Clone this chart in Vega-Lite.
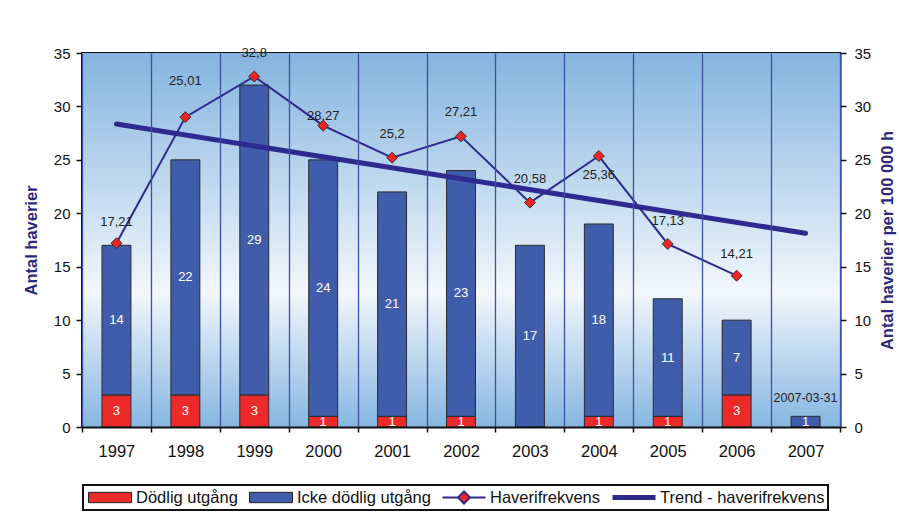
{
  "$schema": "https://vega.github.io/schema/vega-lite/v6.json",
  "width": 758,
  "height": 374,
  "autosize": "none",
  "padding": {"left": 82, "top": 53, "right": 59, "bottom": 102},
  "background": "white",
  "config": {
    "font": "Liberation Sans",
    "view": {"stroke": "#111", "strokeWidth": 2},
    "axis": {
      "labelFont": "Liberation Sans",
      "labelColor": "#111",
      "domainColor": "#111",
      "tickColor": "#111",
      "titleFont": "Liberation Sans",
      "titleFontWeight": "bold",
      "titleColor": "#2b2a7c",
      "titleFontSize": 16.5
    },
    "legend": {
      "orient": "none",
      "legendX": 1,
      "legendY": 432,
      "direction": "horizontal",
      "columns": 4,
      "strokeColor": "#111",
      "strokeWidth": 2,
      "padding": 3,
      "columnPadding": 9,
      "labelFont": "Liberation Sans",
      "labelFontSize": 16.5,
      "labelColor": "#111",
      "labelOffset": 2,
      "symbolSize": 1849,
      "clipHeight": 19,
      "labelLimit": 400
    }
  },
  "datasets": {
    "counts": [
      {"year": "1997", "category": "Dödlig utgång", "count": 3},
      {"year": "1997", "category": "Icke dödlig utgång", "count": 14},
      {"year": "1998", "category": "Dödlig utgång", "count": 3},
      {"year": "1998", "category": "Icke dödlig utgång", "count": 22},
      {"year": "1999", "category": "Dödlig utgång", "count": 3},
      {"year": "1999", "category": "Icke dödlig utgång", "count": 29},
      {"year": "2000", "category": "Dödlig utgång", "count": 1},
      {"year": "2000", "category": "Icke dödlig utgång", "count": 24},
      {"year": "2001", "category": "Dödlig utgång", "count": 1},
      {"year": "2001", "category": "Icke dödlig utgång", "count": 21},
      {"year": "2002", "category": "Dödlig utgång", "count": 1},
      {"year": "2002", "category": "Icke dödlig utgång", "count": 23},
      {"year": "2003", "category": "Icke dödlig utgång", "count": 17},
      {"year": "2004", "category": "Dödlig utgång", "count": 1},
      {"year": "2004", "category": "Icke dödlig utgång", "count": 18},
      {"year": "2005", "category": "Dödlig utgång", "count": 1},
      {"year": "2005", "category": "Icke dödlig utgång", "count": 11},
      {"year": "2006", "category": "Dödlig utgång", "count": 3},
      {"year": "2006", "category": "Icke dödlig utgång", "count": 7},
      {"year": "2007", "category": "Icke dödlig utgång", "count": 1}
    ],
    "bg": [
      {"bottom": 0, "top": 35}
    ],
    "note": [
      {"year": "2007", "total": 1, "text": "2007-03-31"}
    ],
    "freq": [
      {"year": "1997", "freq": 17.2, "label": "17,21", "labelY": 19.2},
      {"year": "1998", "freq": 29.0, "label": "25,01", "labelY": 32.4},
      {"year": "1999", "freq": 32.8, "label": "32,8", "labelY": 35.0},
      {"year": "2000", "freq": 28.2, "label": "28,27", "labelY": 29.1},
      {"year": "2001", "freq": 25.2, "label": "25,2", "labelY": 27.4},
      {"year": "2002", "freq": 27.2, "label": "27,21", "labelY": 29.5},
      {"year": "2003", "freq": 21.0, "label": "20,58", "labelY": 23.2},
      {"year": "2004", "freq": 25.36, "label": "25,36", "labelY": 23.6},
      {"year": "2005", "freq": 17.13, "label": "17,13", "labelY": 19.3},
      {"year": "2006", "freq": 14.16, "label": "14,21", "labelY": 16.2}
    ],
    "trend": [
      {"year": "1997", "trend": 28.35},
      {"year": "2007", "trend": 18.13}
    ]
  },
  "layer": [
    {
      "layer": [
        {
          "data": {"name": "bg"},
          "mark": {
            "type": "rect",
            "color": {
              "gradient": "linear", "x1": 0, "y1": 0, "x2": 0, "y2": 1,
              "stops": [
                {"offset": 0, "color": "#84b4df"},
                {"offset": 0.64, "color": "#f2f7fc"},
                {"offset": 1, "color": "#86b6e1"}
              ]
            }
          },
          "encoding": {
            "y": {"field": "top", "type": "quantitative", "title": "Antal haverier"},
            "y2": {"field": "bottom"}
          }
        },
        {
          "data": {"name": "counts"},
          "transform": [
            {"stack": "count", "groupby": ["year"], "sort": [{"field": "category", "order": "ascending"}], "as": ["y0", "y1"]}
          ],
          "mark": {"type": "bar", "stroke": "#2a2a2a", "strokeWidth": 1, "width": {"band": 0.42}},
          "encoding": {
            "x": {
              "field": "year", "type": "ordinal", "title": null,
              "scale": {"paddingInner": 0, "paddingOuter": 0},
              "axis": {
                "labelAngle": 0, "labelFontSize": 16.5, "labelPadding": 11,
                "tickBand": "extent", "tickSize": 5, "tickWidth": 1.5,
                "grid": true, "gridColor": "#3d50a5", "gridWidth": 1.3,
                "domainWidth": 2, "zindex": 1
              }
            },
            "y": {
              "field": "y1", "type": "quantitative",
              "scale": {"domain": [0, 35], "nice": false},
              "axis": {
                "title": "Antal haverier", "values": [0, 5, 10, 15, 20, 25, 30, 35],
                "labelFontSize": 15, "labelPadding": 6, "tickSize": 6, "tickWidth": 1.5,
                "domainWidth": 2, "titlePadding": 14, "grid": false
              }
            },
            "y2": {"field": "y0"},
            "color": {
              "field": "category", "type": "nominal",
              "scale": {
                "domain": ["Dödlig utgång", "Icke dödlig utgång"],
                "range": ["#ed2a2a", "#3f5dab"]
              },
              "legend": null
            }
          }
        },
        {
          "data": {"name": "counts"},
          "transform": [{"filter": "false"}],
          "mark": {"type": "point", "filled": true, "opacity": 1},
          "encoding": {
            "fill": {
              "field": "category", "type": "nominal",
              "scale": {
                "domain": ["Dödlig utgång", "Icke dödlig utgång", "Haverifrekvens", "Trend - haverifrekvens"],
                "range": ["#ed2a2a", "#3f5dab", "#ed2a2a", "transparent"]
              },
              "legend": {"title": null}
            },
            "stroke": {
              "field": "category", "type": "nominal",
              "scale": {
                "domain": ["Dödlig utgång", "Icke dödlig utgång", "Haverifrekvens", "Trend - haverifrekvens"],
                "range": ["#222222", "#222222", "#2d2a8c", "#2d2a8c"]
              },
              "legend": {"title": null}
            },
            "strokeWidth": {
              "field": "category", "type": "nominal",
              "scale": {
                "type": "ordinal",
                "domain": ["Dödlig utgång", "Icke dödlig utgång", "Haverifrekvens", "Trend - haverifrekvens"],
                "range": [1, 1, 2, 5]
              },
              "legend": {"title": null}
            },
            "shape": {
              "field": "category", "type": "nominal",
              "scale": {
                "domain": ["Dödlig utgång", "Icke dödlig utgång", "Haverifrekvens", "Trend - haverifrekvens"],
                "range": ["M-1,-0.24H1V0.24H-1Z", "M-1,-0.24H1V0.24H-1Z", "M-1,0H-0.28M0.28,0H1M0,-0.28L0.28,0L0,0.28L-0.28,0Z", "M-1,0H1"]
              },
              "legend": {"title": null}
            }
          }
        },
        {
          "data": {"name": "counts"},
          "transform": [
            {"stack": "count", "groupby": ["year"], "sort": [{"field": "category", "order": "ascending"}], "as": ["y0", "y1"]},
            {"calculate": "(datum.y0 + datum.y1) / 2", "as": "ymid"}
          ],
          "mark": {"type": "text", "color": "white", "fontSize": 13, "font": "Liberation Sans", "baseline": "middle"},
          "encoding": {
            "x": {"field": "year", "type": "ordinal", "title": null},
            "y": {"field": "ymid", "type": "quantitative", "title": "Antal haverier"},
            "text": {"field": "count", "type": "quantitative"}
          }
        },
        {
          "data": {"name": "note"},
          "mark": {"type": "text", "color": "#222", "fontSize": 12.5, "font": "Liberation Sans", "baseline": "middle", "dy": -18},
          "encoding": {
            "x": {"field": "year", "type": "ordinal", "title": null},
            "y": {"field": "total", "type": "quantitative", "title": "Antal haverier"},
            "text": {"field": "text", "type": "nominal"}
          }
        }
      ]
    },
    {
      "layer": [
        {
          "data": {"name": "freq"},
          "mark": {"type": "line", "color": "#2d2a8c", "strokeWidth": 2},
          "encoding": {
            "x": {"field": "year", "type": "ordinal", "title": null},
            "y": {
              "field": "freq", "type": "quantitative",
              "scale": {"domain": [0, 35], "nice": false},
              "title": "Antal haverier per 100 000 h",
              "axis": {
                "orient": "right", "values": [0, 5, 10, 15, 20, 25, 30, 35],
                "labelFontSize": 15, "labelPadding": 8, "tickSize": 6, "tickWidth": 1.5,
                "domainWidth": 2, "titlePadding": 25, "titleAngle": -90, "grid": false
              }
            }
          }
        },
        {
          "data": {"name": "trend"},
          "mark": {"type": "line", "color": "#2e2a8f", "strokeWidth": 5, "strokeCap": "round"},
          "encoding": {
            "x": {"field": "year", "type": "ordinal", "title": null},
            "y": {"field": "trend", "type": "quantitative", "title": "Antal haverier per 100 000 h"}
          }
        },
        {
          "data": {"name": "freq"},
          "mark": {"type": "point", "shape": "diamond", "filled": true, "fill": "#ee2424", "stroke": "#333", "strokeWidth": 1, "size": 120, "opacity": 1},
          "encoding": {
            "x": {"field": "year", "type": "ordinal", "title": null},
            "y": {"field": "freq", "type": "quantitative", "title": "Antal haverier per 100 000 h"}
          }
        },
        {
          "data": {"name": "freq"},
          "mark": {"type": "text", "color": "#222", "fontSize": 13, "font": "Liberation Sans", "baseline": "middle"},
          "encoding": {
            "x": {"field": "year", "type": "ordinal", "title": null},
            "y": {"field": "labelY", "type": "quantitative", "title": "Antal haverier per 100 000 h"},
            "text": {"field": "label", "type": "nominal"}
          }
        }
      ]
    }
  ],
  "resolve": {"scale": {"y": "independent"}}
}
